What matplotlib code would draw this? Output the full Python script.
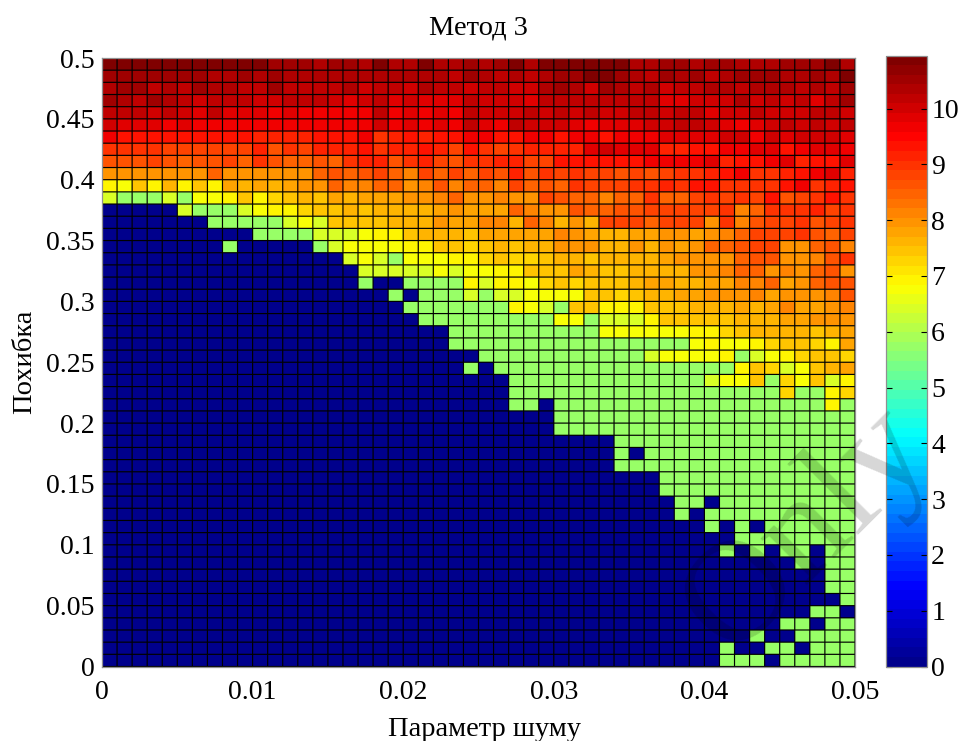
import numpy as np
import matplotlib
matplotlib.use('Agg')
import matplotlib.pyplot as plt
from matplotlib.colors import LinearSegmentedColormap

plt.rcParams['font.family'] = ['Liberation Serif', 'DejaVu Serif']

# cell codes: '.' = 0, '+' = the green plateau, a..z = 6.0 .. 11.0 in 0.2 steps
green_value = 5.72
high_codes = 'abcdefghijklmnopqrstuvwxyz'
high_values = [6.0 + 0.2 * i for i in range(26)]

# rows from the top (y = 0.5) down, 50 cells each, grouped by five
rows = [
    "yyyyy yzyyz yxxxw xxwyw wywwx wxywy yyyyy wwxxw xxwww xxxyw",
    "xxxxx xxwwx wxwww wwwww wwwvx wvwvw xxyyx wvxwx vwxxx wwxwy",
    "wxxvw vxwwv vxvvv vwuvv uwvvu vvuuw xwuxw vwuvv wwvww wvwvx",
    "xwvxw vuvvv uuvvv utuvt utttv uuutv vvvvv vvttu uuwuv uvtvx",
    "vvvuv utvtt tstss sssvs tstsv uuuvu vuvuu vvuvv tuuvu uuvvu",
    "uttts tssss sssss sssus tstsv tsvuu utstt tuuvv utstu vuvuv",
    "srrrr rrrrr qqqqr rrspq rqrrs srrss rssrs ssttt tuusu tuuut",
    "ppppo ooooo qnpoq qqrpq qrqor popqq qqtut ttqqr rsstt rstts",
    "nnnon mnnom pnmmn mpqqn pqonp pqqoo rrrrr rssss tqrrs tqrrt",
    "kkkkk kkmkk kkkkm nmnom lomom onqnp opoon onopp qrspp qrstq",
    "fehfi fhfji jijkk mllmm klnlm mlomn mpooo ppqpr rpppp rspqr",
    "c+++c +eefh fghih jijjj kklmk klkko nmmlm mpmmo popor noprp",
    "..... c+++c effgh hihii iijkj jjmlk knmmn noooo oplmp ppqop",
    "..... ..+++ ++cec hhhhi iikjj lliml ikioo omooo kplno opnop",
    "..... ..... ++++c cceff hiiih jjjjj lkjii jjkkj klmoo opnmo",
    "..... ...+. ....+ ceeee ffhhg hihii kkkii kikjk mmnoo kkmnl",
    "..... ..... ..... .cec+ eeeff ghggh iihii iijkk kkmnn kklnp",
    "..... ..... ..... ..ccc ccece effhh hjihh iiiik klmmk lkmnk",
    "..... ..... ..... ..+.. ++++f cffeg hghhh ijjii jjllm jkmnn",
    "..... ..... ..... ....+ .+++c +ccee eehhg hiijj kkklj kkkln",
    "..... ..... ..... ..... +++++ ++fec +hhff fhhhi iijij ljjkl",
    "..... ..... ..... ..... .++++ +++++ ee+cc cfhhh hhiii jjkkk",
    "..... ..... ..... ..... ...++ +++++ +++ee eeeef fghii iihij",
    "..... ..... ..... ..... ...++ +++++ +++++ ++++e feefg hhgfj",
    "..... ..... ..... ..... ..... +++++ +++++ +ceee ef+ce fghhg",
    "..... ..... ..... ..... ....+ .++++ +++++ +++++ ++fhg cehij",
    "..... ..... ..... ..... ..... ..+++ +++++ +++++ ceeh+ gehcf",
    "..... ..... ..... ..... ..... ..+++ +++++ +++++ +++++ g++fg",
    "..... ..... ..... ..... ..... ..++. +++++ +++++ +++++ +++f+",
    "..... ..... ..... ..... ..... ..... +++++ +++++ +++++ +++++",
    "..... ..... ..... ..... ..... ..... +++++ +++++ +++++ +++++",
    "..... ..... ..... ..... ..... ..... ....+ +++++ +++++ +++++",
    "..... ..... ..... ..... ..... ..... ....+ .++++ +++++ +++++",
    "..... ..... ..... ..... ..... ..... ....+ +++++ +++++ +++++",
    "..... ..... ..... ..... ..... ..... ..... ..+++ +++++ +++++",
    "..... ..... ..... ..... ..... ..... ..... ..+++ +++++ +++++",
    "..... ..... ..... ..... ..... ..... ..... ...++ .++++ +++++",
    "..... ..... ..... ..... ..... ..... ..... ...+. +++++ +++++",
    "..... ..... ..... ..... ..... ..... ..... ..... +.+.+ +++++",
    "..... ..... ..... ..... ..... ..... ..... ..... ..+++ +++++",
    "..... ..... ..... ..... ..... ..... ..... ..... .+.+. ++.++",
    "..... ..... ..... ..... ..... ..... ..... ..... ..... .+.++",
    "..... ..... ..... ..... ..... ..... ..... ..... ..... ...++",
    "..... ..... ..... ..... ..... ..... ..... ..... ..... ...++",
    "..... ..... ..... ..... ..... ..... ..... ..... ..... ....+",
    "..... ..... ..... ..... ..... ..... ..... ..... ..... ..++.",
    "..... ..... ..... ..... ..... ..... ..... ..... ..... ++.++",
    "..... ..... ..... ..... ..... ..... ..... ..... ...+. .++++",
    "..... ..... ..... ..... ..... ..... ..... ..... .+..+ +.+++",
    "..... ..... ..... ..... ..... ..... ..... ..... .+++. +++++",
]

x_ticks = [0, 0.01, 0.02, 0.03, 0.04, 0.05]
x_labels = ['0', '0.01', '0.02', '0.03', '0.04', '0.05']
y_ticks = [0, 0.05, 0.1, 0.15, 0.2, 0.25, 0.3, 0.35, 0.4, 0.45, 0.5]
y_labels = ['0', '0.05', '0.1', '0.15', '0.2', '0.25', '0.3', '0.35', '0.4', '0.45', '0.5']
cbar_ticks = [0, 1, 2, 3, 4, 5, 6, 7, 8, 9, 10]
v_max = 10.95


def decode(row):
    out = []
    for c in row.replace(' ', ''):
        if c == '.':
            out.append(0.0)
        elif c == '+':
            out.append(green_value)
        else:
            out.append(high_values[high_codes.index(c)])
    return out


Z = np.array([decode(r) for r in rows])[::-1]
x_edges = np.linspace(0, 0.05, Z.shape[1] + 1)
y_edges = np.linspace(0, 0.5, Z.shape[0] + 1)

# matlab style jet, 64 flat steps
jet64 = LinearSegmentedColormap.from_list('jet64', [
    (0, (0, 0, 0.55)), (1 / 8, (0, 0, 1)), (3 / 8, (0, 1, 1)),
    (5 / 8, (1, 1, 0)), (7 / 8, (1, 0, 0)), (1, (0.5, 0, 0))], N=64)

W, H = 963, 741
fig = plt.figure(figsize=(W / 100, H / 100), dpi=100)
ax = fig.add_axes([102 / W, 1 - 666.5 / H, 753 / W, 608.5 / H])
mesh = ax.pcolormesh(x_edges, y_edges, Z, cmap=jet64, vmin=0, vmax=v_max)
# grid drawn on its own, pcolormesh edges snap unevenly
v_lines = ax.vlines(x_edges, 0, 0.5, color='black', linewidth=0.85)
h_lines = ax.hlines(y_edges, 0, 0.05, color='black', linewidth=0.85)
v_lines.set_snap(False)
h_lines.set_snap(False)

ax.set_xlim(0, 0.05)
ax.set_ylim(0, 0.5)
ax.set_xticks(x_ticks)
ax.set_xticklabels(x_labels)
ax.set_yticks(y_ticks)
ax.set_yticklabels(y_labels)
ax.tick_params(direction='in', length=0, labelsize=20)
ax.tick_params(axis='x', pad=10)
ax.tick_params(axis='y', pad=5.5)
for s in ax.spines.values():
    s.set_color('#909090')
    s.set_linewidth(0.9)

ax.set_title('Метод 3', fontsize=20.5, pad=17)
ax.set_xlabel('Параметр шуму', fontsize=20.5, x=0.508, labelpad=8)
ax.set_ylabel('Похибка', fontsize=20.5, labelpad=6)

cax = fig.add_axes([886 / W, 1 - 666.5 / H, 41 / W, 611 / H])
cb = fig.colorbar(mesh, cax=cax)
cb.set_ticks(cbar_ticks)
cax.tick_params(direction='in', length=4.5, width=0.8, left=True, right=True,
                labelsize=20, pad=3, color='black')
cb.outline.set_edgecolor('#909090')
cb.outline.set_linewidth(0.9)

# faint diagonal watermark over the lower right corner
fig.text(808 / W, 1 - 530 / H, 'Only', fontsize=104, rotation=45, color='black', alpha=0.16,
         ha='center', va='center', rotation_mode='anchor')

fig.savefig('out.png', dpi=100)
